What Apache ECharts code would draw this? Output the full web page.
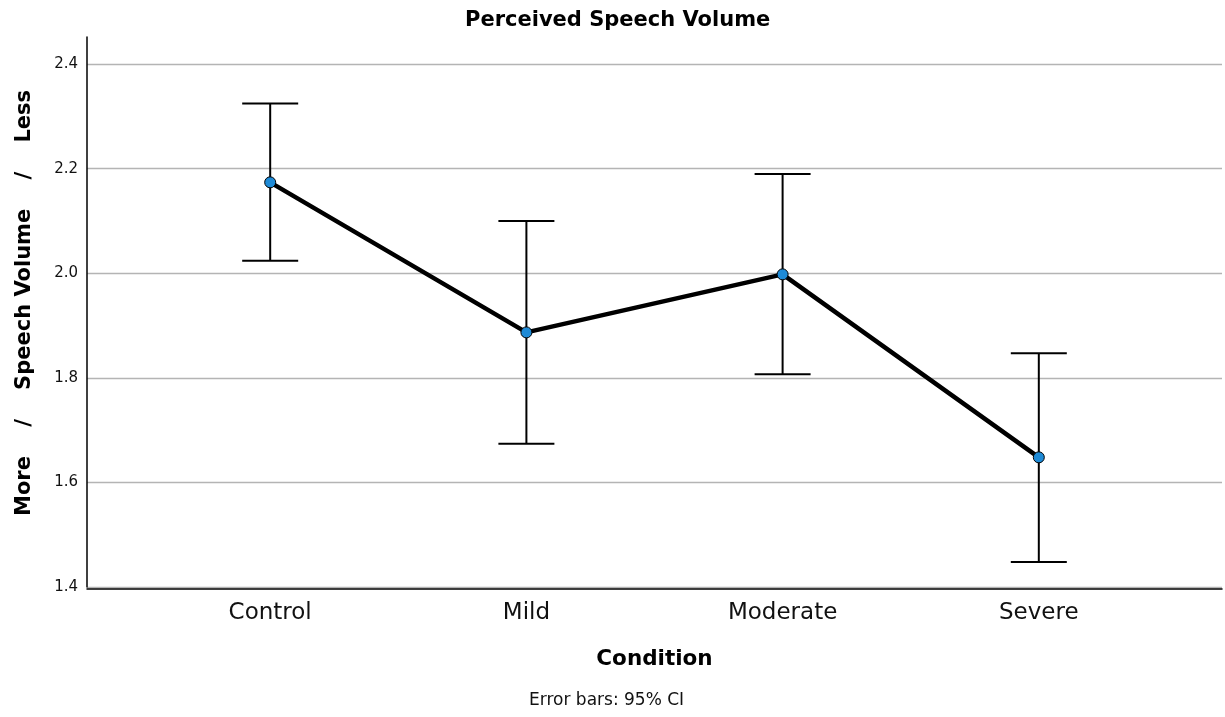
<!DOCTYPE html>
<html>
<head>
<meta charset="utf-8">
<script src="https://cdn.jsdelivr.net/npm/echarts@6/dist/echarts.min.js"></script>
<style>
  html, body { margin: 0; padding: 0; background: #fff; }
  #chart { width: 1225px; height: 717px; }
</style>
</head>
<body>
<div id="chart"></div>
<script>
// Perceived speech volume by condition: means with 95% confidence intervals
const categories = ['Control', 'Mild', 'Moderate', 'Severe'];
const means = [2.174, 1.887, 1.998, 1.648];
const ciLower = [2.024, 1.674, 1.807, 1.448];
const ciUpper = [2.325, 2.100, 2.190, 1.847];
const yTicks = [1.4, 1.6, 1.8, 2.0, 2.2, 2.4];

const FONT = 'DejaVu Sans';

// Plot frame and the category slot width used to place the condition labels
const PLOT_LEFT = 87, PLOT_RIGHT = 3, PLOT_TOP = 37, PLOT_BOTTOM = 130;
const X_PAD = 0.715;          // space beyond the first/last condition, in category units
const SLOT = (1225 - PLOT_LEFT - PLOT_RIGHT) / (categories.length - 1 + 2 * X_PAD);
const LABEL_LEFT = PLOT_LEFT + X_PAD * SLOT - SLOT / 2;

const chart = echarts.init(document.getElementById('chart'));

const lineData = means.map((v, i) => [i, v]);
const errData = categories.map((c, i) => [i, ciLower[i], ciUpper[i]]);

chart.setOption({
  animation: false,
  backgroundColor: '#ffffff',
  textStyle: { fontFamily: FONT },
  title: {
    text: 'Perceived Speech Volume',
    left: 465,
    top: 10,
    padding: 0,
    textStyle: { fontFamily: FONT, fontSize: 21, fontWeight: 'bold', color: '#000' }
  },
  grid: [
    { left: PLOT_LEFT, right: PLOT_RIGHT, top: PLOT_TOP, bottom: PLOT_BOTTOM, containLabel: false },
    { left: LABEL_LEFT, width: SLOT * categories.length, top: PLOT_TOP, bottom: PLOT_BOTTOM, containLabel: false }
  ],
  xAxis: [
    {
      type: 'value',
      gridIndex: 0,
      min: -X_PAD,
      max: categories.length - 1 + X_PAD,
      offset: 2,
      name: 'Condition',
      nameLocation: 'middle',
      nameGap: 59,
      nameTextStyle: { fontFamily: FONT, fontSize: 21.5, fontWeight: 'bold', color: '#000' },
      axisLine: { show: true, onZero: false, lineStyle: { color: '#000', width: 1.5 } },
      axisTick: { show: false },
      splitLine: { show: false },
      axisLabel: { show: false }
    },
    {
      type: 'category',
      gridIndex: 1,
      data: categories,
      boundaryGap: true,
      offset: 2,
      axisLine: { show: false },
      axisTick: { show: false },
      splitLine: { show: false },
      axisLabel: { fontFamily: FONT, fontSize: 23, color: '#111', margin: 13, interval: 0 }
    }
  ],
  yAxis: [
    {
      type: 'value',
      gridIndex: 0,
      min: 1.4,
      max: 2.452,
      interval: 0.2,
      name: 'More    /    Speech Volume    /    Less',
      nameLocation: 'middle',
      nameRotate: 90,
      nameGap: 52,
      nameTextStyle: { fontFamily: FONT, fontSize: 21, fontWeight: 'bold', color: '#000', padding: [0, 0, 0, 18] },
      axisLine: { show: true, onZero: false, lineStyle: { color: '#000', width: 1.5 } },
      axisTick: { show: false },
      axisLabel: {
        fontFamily: FONT, fontSize: 15, color: '#111', margin: 9,
        showMaxLabel: false,
        formatter: v => yTicks.some(t => Math.abs(t - v) < 1e-6) ? v.toFixed(1) : ''
      },
      splitLine: { show: true, showMaxLine: false, lineStyle: { color: '#b4b4b4', width: 1.3 } }
    },
    {
      type: 'value',
      gridIndex: 1,
      show: false
    }
  ],
  graphic: [{
    type: 'text',
    left: 529,
    top: 692,
    style: { text: 'Error bars: 95% CI', fontFamily: FONT, fontSize: 17, fill: '#111' }
  }],
  series: [
    {
      type: 'custom',
      xAxisIndex: 0,
      yAxisIndex: 0,
      z: 2,
      data: errData,
      renderItem: (params, api) => {
        const x = api.value(0);
        const lo = api.coord([x, api.value(1)]);
        const hi = api.coord([x, api.value(2)]);
        const hw = 28;
        const style = { stroke: '#000', lineWidth: 2 };
        return {
          type: 'group',
          children: [
            { type: 'line', shape: { x1: lo[0], y1: lo[1], x2: hi[0], y2: hi[1] }, style },
            { type: 'line', shape: { x1: hi[0] - hw, y1: hi[1], x2: hi[0] + hw, y2: hi[1] }, style },
            { type: 'line', shape: { x1: lo[0] - hw, y1: lo[1], x2: lo[0] + hw, y2: lo[1] }, style }
          ]
        };
      }
    },
    {
      type: 'line',
      xAxisIndex: 0,
      yAxisIndex: 0,
      z: 3,
      data: lineData,
      symbol: 'circle',
      symbolSize: 11,
      lineStyle: { color: '#000', width: 4.5 },
      itemStyle: { color: '#1e8ad6', borderColor: '#000', borderWidth: 1 }
    }
  ]
});
</script>
</body>
</html>
